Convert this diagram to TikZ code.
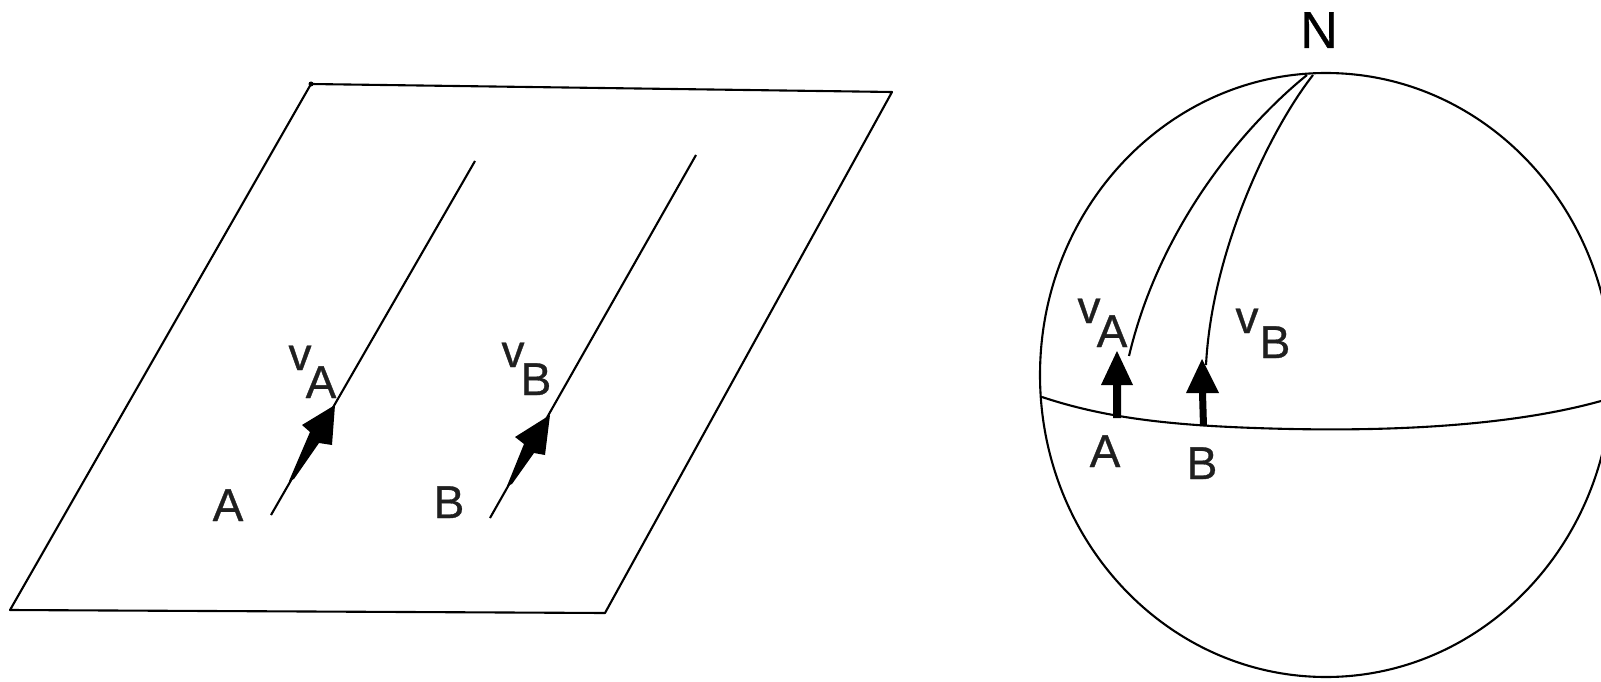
\documentclass[tikz,border=0pt]{standalone}
\usepackage{fontspec}
\setmainfont[FakeBold=0.7]{Liberation Sans}
\tikzset{
  line/.style={draw=black, line width=2.1pt, line join=round},
  headfill/.style={fill=black, draw=none},
  lab/.style={anchor=base, inner sep=0pt, outer sep=0pt, text=black!88, font=\fontsize{46}{50}\selectfont},
  labn/.style={lab, text=black, font=\fontsize{52}{56}\selectfont}
}
\begin{document}
\begin{tikzpicture}[x=1pt,y=-1pt]
\useasboundingbox (0,0) rectangle (1601,682);
\fill[white] (0,0) rectangle (1601,682);
\begin{scope}
\clip (0,0) rectangle (1601,682);
% plane
\coordinate (p1) at (311,84);
\coordinate (p2) at (892,92);
\coordinate (p3) at (605,613);
\coordinate (p4) at (10,610);
\draw[line] (p1) -- (p2) -- (p3) -- (p4) -- cycle;
\fill (p1) circle (2.5pt);
% plane lines
\coordinate (a0) at (271,515);
\coordinate (a1) at (335,405);
\coordinate (a2) at (475,161);
\coordinate (b0) at (490,518);
\coordinate (b1) at (550,415);
\coordinate (b2) at (696,155);
\draw[line] (a0) -- (a2);
\draw[line] (b0) -- (b2);
% plane arrows
\fill[headfill] (a1) -- (302,425) -- (310,432) -- (289,481) -- (294,479) -- (319,443) -- (332,445) -- cycle;
\fill[headfill] (b1) -- (515,437) -- (524,444) -- (507,486) -- (512,484) -- (534,453) -- (545,455) -- cycle;
% sphere
\coordinate (c) at (1326,375);
\coordinate (e0) at (1042,397);
\coordinate (e1) at (1255,428);
\coordinate (e2) at (1601,401);
\coordinate (na) at (1307,75);
\coordinate (nb) at (1313,75);
\coordinate (sa) at (1129,356);
\coordinate (sb) at (1206,365);
\draw[line] (c) ellipse [x radius=286, y radius=302];
\draw[line] (e0) .. controls (1105,418) and (1170,425) .. (e1) .. controls (1340,431) and (1490,432) .. (e2);
\draw[line] (na) .. controls (1245,125) and (1160,225) .. (sa);
\draw[line] (nb) .. controls (1270,130) and (1212,250) .. (sb);
% sphere arrows
\fill[headfill] (1117,351) -- (1101,385) -- (1113,385) -- (1113,418) -- (1121,418) -- (1121,385) -- (1133,385) -- cycle;
\fill[headfill] (1202,359) -- (1186,393) -- (1199,393) -- (1200,426) -- (1207,426) -- (1206,393) -- (1219,393) -- cycle;
\end{scope}
% labels
\node[lab] (tA) at (228,521) {A};
\node[lab] (tvA) at (300,370) {v};
\node[lab] (tvAs) at (321,398) {A};
\node[lab] (tB) at (449,518) {B};
\node[lab] (tvB) at (513,367) {v};
\node[lab] (tvBs) at (536,395) {B};
\node[labn] (tN) at (1319,48) {N};
\node[lab] (uvA) at (1089,323) {v};
\node[lab] (uvAs) at (1112,347) {A};
\node[lab] (uvB) at (1247,333) {v};
\node[lab] (uvBs) at (1275,358) {B};
\node[lab] (uA) at (1105,467) {A};
\node[lab] (uB) at (1202,479) {B};
\end{tikzpicture}
\end{document}
